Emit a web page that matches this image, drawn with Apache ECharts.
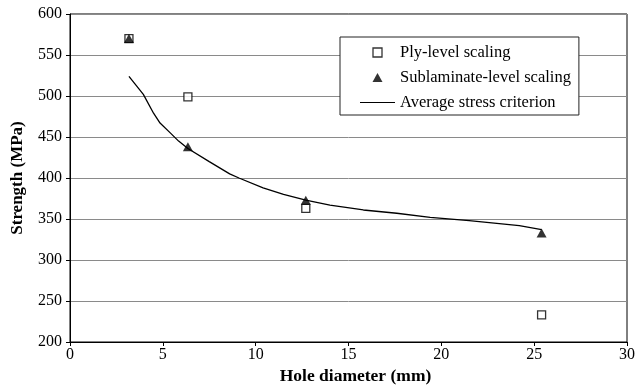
<!DOCTYPE html>
<html>
<head>
<meta charset="utf-8">
<script src="https://cdn.jsdelivr.net/npm/echarts@6/dist/echarts.min.js"></script>
<style>
  html, body { margin: 0; padding: 0; background: #fff; }
  #chart { width: 637px; height: 385px; }
</style>
</head>
<body>
<div id="chart"></div>
<script>
// Hole diameters (mm) of the tested specimens
const holeDiameters = [3.175, 6.35, 12.7, 25.4];
// Measured strengths (MPa)
const plyLevel = [570, 499, 363, 233];
const sublaminateLevel = [570, 438, 373, 333];
// Average stress criterion prediction: diameter (mm), strength (MPa)
const criterionX = [3.175, 3.95, 4.5, 4.85, 5.4, 5.85, 6.35, 7.5, 8.6, 9.1, 10.4, 11.5, 12.7, 14.0, 15.8, 17.6, 19.4, 21.5, 24.2, 25.4];
const criterionY = [524, 502, 479, 467, 455, 445, 436, 420, 405, 400, 388, 380, 373, 367, 361, 357, 352, 348, 342, 337];

const xTicks = { min: 0, max: 30, interval: 5 };
const yTicks = { min: 200, max: 600, interval: 50 };

const pair = (xs, ys) => xs.map((x, i) => [x, ys[i]]);
const serif = '"Liberation Serif", "Times New Roman", serif';

// Legend glyphs: small square, small triangle, and a plain line stroke
const squareIcon = 'path://M0,0H10V10H0Z';
const triangleIcon = 'path://M5,0L10,9L0,9Z';
const strokeIcon = 'path://M0,0H70V1.6H0Z';

const chart = echarts.init(document.getElementById('chart'), null, { renderer: 'canvas' });
chart.setOption({
  backgroundColor: '#fff',
  animation: false,
  textStyle: { fontFamily: serif },
  grid: {
    left: 70, right: 10, top: 14, bottom: 43,
    outerBoundsMode: 'none',
    containLabel: false,
    show: true, borderColor: '#000', borderWidth: 1
  },
  legend: {
    orient: 'vertical',
    left: 340, top: 37,
    padding: [7, 8, 4, 20],
    borderColor: '#222', borderWidth: 1,
    backgroundColor: '#fff',
    itemWidth: 35, itemHeight: 9, itemGap: 8,
    symbolKeepAspect: true,
    textStyle: { fontFamily: serif, fontSize: 16.5, color: '#000' },
    data: [
      { name: 'Ply-level scaling', icon: squareIcon,
        itemStyle: { color: '#fff', borderColor: '#000', borderWidth: 1.3 } },
      { name: 'Sublaminate-level scaling', icon: triangleIcon,
        itemStyle: { color: '#000' } },
      { name: 'Average stress criterion', icon: strokeIcon,
        itemStyle: { color: '#000', borderWidth: 0 } }
    ]
  },
  xAxis: {
    type: 'value',
    min: xTicks.min, max: xTicks.max, interval: xTicks.interval,
    name: 'Hole diameter (mm)',
    nameLocation: 'middle', nameGap: 24,
    nameTextStyle: { fontFamily: serif, fontSize: 17.5, fontWeight: 'bold', color: '#000', padding: [0, 0, 0, 14] },
    axisLine: { lineStyle: { color: '#000', width: 1 } },
    axisTick: { show: true, inside: false, length: 4, lineStyle: { color: '#000' } },
    axisLabel: { fontFamily: serif, fontSize: 16, color: '#000', margin: 5 },
    splitLine: { show: false }
  },
  yAxis: {
    type: 'value',
    min: yTicks.min, max: yTicks.max, interval: yTicks.interval,
    name: 'Strength (MPa)',
    nameLocation: 'middle', nameGap: 44,
    nameTextStyle: { fontFamily: serif, fontSize: 17, fontWeight: 'bold', color: '#000' },
    axisLine: { show: true, lineStyle: { color: '#000', width: 1 } },
    axisTick: { show: true, inside: false, length: 4, lineStyle: { color: '#000' } },
    axisLabel: { fontFamily: serif, fontSize: 16, color: '#000', margin: 8 },
    splitLine: { show: true, lineStyle: { color: '#8a8a8a', width: 1 } }
  },
  series: [
    {
      name: 'Average stress criterion',
      type: 'line',
      data: pair(criterionX, criterionY),
      symbol: 'none',
      smooth: false,
      lineStyle: { color: '#000', width: 1.3 },
      itemStyle: { color: '#000' },
      z: 2
    },
    {
      name: 'Ply-level scaling',
      type: 'scatter',
      data: pair(holeDiameters, plyLevel),
      symbol: 'rect',
      symbolSize: 8,
      itemStyle: { color: '#fff', borderColor: '#000', borderWidth: 1.3 },
      z: 3
    },
    {
      name: 'Sublaminate-level scaling',
      type: 'scatter',
      data: pair(holeDiameters, sublaminateLevel),
      symbol: 'triangle',
      symbolSize: [10, 9],
      itemStyle: { color: '#000' },
      z: 4
    }
  ]
});
</script>
</body>
</html>
